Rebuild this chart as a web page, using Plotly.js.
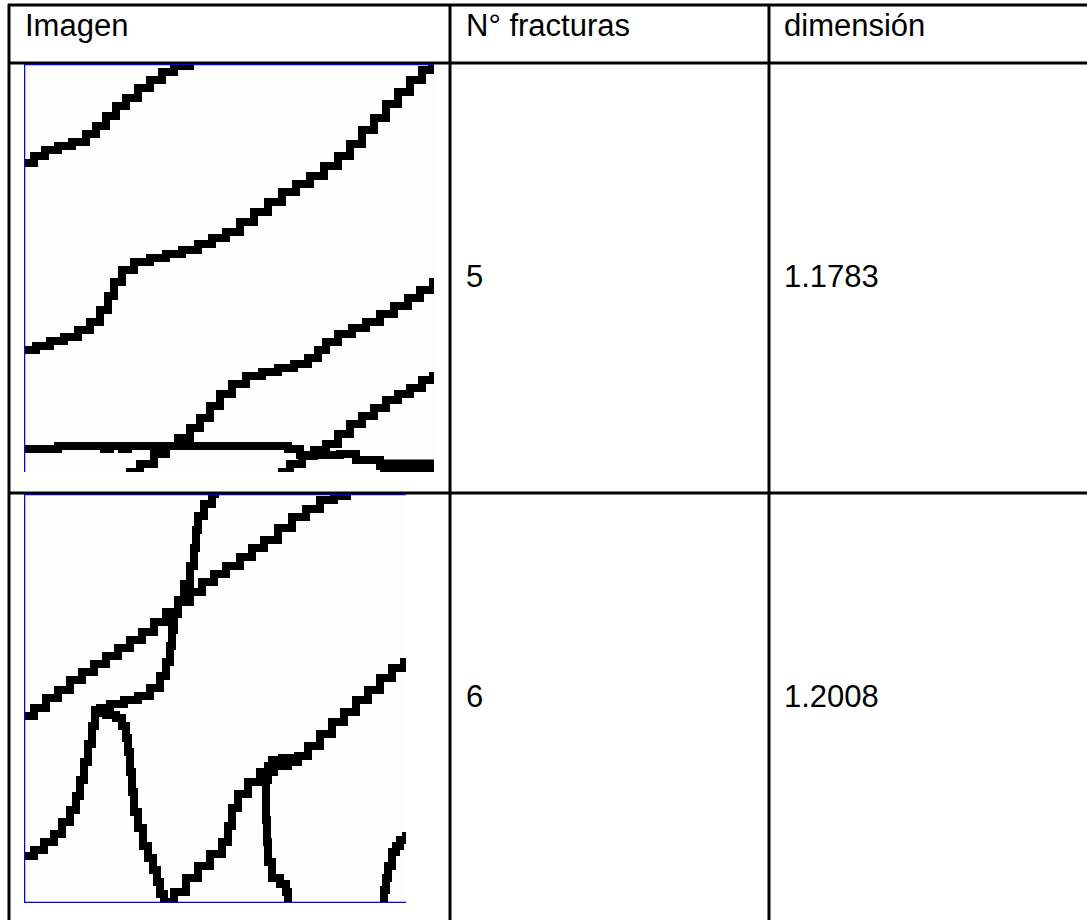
<!DOCTYPE html>
<html>
<head>
<meta charset="utf-8">
<script src="https://cdn.plot.ly/plotly-3.0.1.min.js"></script>
<style>html,body{margin:0;padding:0;background:#fff;}#chart{width:1087px;height:920px;}</style>
</head>
<body>
<div id="chart"></div>
<script>
// ---- table content ----
const headers = ["Imagen", "N° fracturas", "dimensión"];
const nFracturas = ["5", "6"];
const dimension = ["1.1783", "1.2008"];

// ---- fracture traces, image 1 (pixel coordinates) ----
const img1_A_x = [24, 34, 45, 58, 72, 86, 96, 106, 116, 126, 138, 150, 162, 174, 190];
const img1_A_y = [163, 156, 150, 146, 142, 134, 126, 116, 106, 98, 88, 80, 72, 66, 64];
const img1_B_x = [24, 36, 50, 64, 78, 90, 100, 108, 114, 122, 134, 150, 166, 182, 198, 212, 226, 240, 254, 268, 282, 296, 310, 324, 338, 350, 362, 374, 386, 398, 410, 422, 432];
const img1_B_y = [350, 346, 341, 337, 330, 322, 310, 296, 282, 270, 262, 258, 254, 250, 244, 238, 232, 222, 212, 202, 192, 184, 176, 166, 156, 144, 130, 118, 104, 92, 80, 70, 64];
const img1_C_x = [126, 140, 154, 166, 178, 190, 200, 210, 220, 232, 246, 262, 278, 294, 308, 318, 326, 338, 352, 366, 380, 394, 408, 420, 433];
const img1_C_y = [472, 464, 454, 446, 438, 428, 418, 406, 394, 384, 376, 372, 368, 364, 358, 350, 342, 334, 328, 322, 314, 306, 298, 290, 278];
const img1_D_x = [24, 52, 58, 104, 110, 122, 128, 288, 300, 320, 340, 356, 380, 434];
const img1_D_y = [449, 449, 446, 449, 446, 449, 446, 449, 455, 455, 454, 460, 466, 466];
const img1_D2_x = [380, 434];
const img1_D2_y = [466, 466];
const img1_E_x = [278, 290, 302, 314, 326, 338, 350, 362, 374, 386, 398, 410, 422, 433];
const img1_E_y = [472, 464, 456, 450, 444, 434, 424, 416, 408, 400, 394, 388, 380, 372];

// ---- fracture traces, image 2 ----
const img2_F_x = [24, 34, 46, 58, 70, 82, 94, 106, 118, 130, 142, 154, 166, 178, 190, 202, 214, 226, 240, 252, 264, 278, 292, 306, 320, 334, 347];
const img2_F_y = [716, 708, 698, 690, 680, 672, 664, 656, 648, 640, 632, 622, 612, 602, 592, 582, 574, 566, 557, 548, 540, 528, 517, 509, 500, 496, 494];
const img2_G_x = [219, 212, 204, 198, 196, 194, 190, 184, 178, 174, 172, 170, 166, 160, 150, 138, 124, 110, 100, 95];
const img2_G_y = [494, 504, 516, 530, 548, 566, 584, 600, 614, 630, 646, 662, 676, 688, 696, 700, 704, 708, 710, 713];
const img2_K_x = [24, 34, 44, 54, 62, 70, 76, 80, 84, 88, 92, 95];
const img2_K_y = [856, 850, 842, 834, 822, 810, 796, 780, 762, 744, 726, 713];
const img2_L_x = [95, 106, 116, 122, 126, 128, 130, 132, 134, 138, 143, 148, 153, 157, 160, 164, 170];
const img2_L_y = [713, 715, 718, 726, 738, 752, 772, 792, 812, 828, 846, 858, 870, 882, 894, 902, 902];
const img2_H_x = [164, 174, 186, 198, 210, 222, 228, 232, 238, 248, 260, 274, 288, 298, 308, 320, 332, 344, 356, 368, 380, 392, 404];
const img2_H_y = [902, 892, 878, 866, 854, 842, 826, 808, 794, 782, 772, 766, 762, 756, 746, 734, 722, 712, 700, 690, 678, 668, 658];
const img2_I_x = [296, 282, 272, 268, 266, 266, 267, 268, 272, 280, 286, 288];
const img2_I_y = [758, 760, 766, 780, 798, 820, 842, 862, 878, 884, 892, 902];
const img2_J_x = [382, 384, 386, 388, 392, 396, 400, 406];
const img2_J_y = [902, 890, 878, 866, 852, 846, 840, 832];

const img1Curves = [[img1_A_x, img1_A_y, 8], [img1_B_x, img1_B_y, 8], [img1_C_x, img1_C_y, 8], [img1_D_x, img1_D_y, 8], [img1_D2_x, img1_D2_y, 13], [img1_E_x, img1_E_y, 8]];
const img2Curves = [[img2_F_x, img2_F_y], [img2_G_x, img2_G_y], [img2_K_x, img2_K_y], [img2_L_x, img2_L_y], [img2_H_x, img2_H_y], [img2_I_x, img2_I_y], [img2_J_x, img2_J_y]];

const W = 1087, H = 920;
const px = v => v / W;
const py = v => 1 - v / H;

const traces = [];
img1Curves.forEach(c => traces.push({x: c[0], y: c[1], xaxis: 'x', yaxis: 'y', mode: 'lines',
  line: {color: '#000', width: c[2], shape: 'hv'}, hoverinfo: 'skip', showlegend: false}));
img2Curves.forEach(c => traces.push({x: c[0], y: c[1], xaxis: 'x2', yaxis: 'y2', mode: 'lines',
  line: {color: '#000', width: 8, shape: 'hv'}, hoverinfo: 'skip', showlegend: false}));

const axBase = {showgrid: false, zeroline: false, showticklabels: false, ticks: '', showline: false, fixedrange: true};

const shapes = [];
const blk = {color: '#000', width: 3};
function hline(y, x0, x1) { shapes.push({type: 'line', xref: 'paper', yref: 'paper', x0: px(x0), x1: px(x1), y0: py(y), y1: py(y), line: blk}); }
function vline(x, y0, y1) { shapes.push({type: 'line', xref: 'paper', yref: 'paper', x0: px(x), x1: px(x), y0: py(y0), y1: py(y1), line: blk}); }
hline(5, 8, 1087); hline(63, 8, 1087); hline(493, 8, 1087);
vline(9, 4, 920); vline(450, 4, 920); vline(769, 4, 920);

// image frames (blue edges)
const blue = {color: '#0000ff', width: 2.5};
shapes.push({type: 'line', xref: 'x', yref: 'y', x0: 24, x1: 24, y0: 64, y1: 472, line: blue});
shapes.push({type: 'line', xref: 'x', yref: 'y', x0: 24, x1: 434, y0: 64, y1: 64, line: blue});
shapes.push({type: 'line', xref: 'x2', yref: 'y2', x0: 24, x1: 24, y0: 494, y1: 903, line: blue});
shapes.push({type: 'line', xref: 'x2', yref: 'y2', x0: 24, x1: 406, y0: 494, y1: 494, line: blue});
shapes.push({type: 'line', xref: 'x2', yref: 'y2', x0: 24, x1: 406, y0: 903, y1: 903, line: blue});

const font = {family: 'Liberation Sans, Arial, sans-serif', size: 31, color: '#000'};
const annotations = [];
const colX = [23, 464, 782];
headers.forEach((h, i) => annotations.push({text: h, xref: 'paper', yref: 'paper', x: px(colX[i]), y: py(26),
  xanchor: 'left', yanchor: 'middle', showarrow: false, font: font}));
const rowY = [276, 696];
nFracturas.forEach((v, i) => annotations.push({text: v, xref: 'paper', yref: 'paper', x: px(colX[1]), y: py(rowY[i]),
  xanchor: 'left', yanchor: 'middle', showarrow: false, font: font}));
dimension.forEach((v, i) => annotations.push({text: v, xref: 'paper', yref: 'paper', x: px(colX[2]), y: py(rowY[i]),
  xanchor: 'left', yanchor: 'middle', showarrow: false, font: font}));

const layout = {
  width: W, height: H, margin: {l: 0, r: 0, t: 0, b: 0},
  paper_bgcolor: '#fff', plot_bgcolor: '#fdfdfd', showlegend: false,
  xaxis: Object.assign({}, axBase, {domain: [px(24), px(434)], range: [24, 434], anchor: 'y'}),
  yaxis: Object.assign({}, axBase, {domain: [py(472), py(64)], range: [472, 64], anchor: 'x'}),
  xaxis2: Object.assign({}, axBase, {domain: [px(24), px(406)], range: [24, 406], anchor: 'y2'}),
  yaxis2: Object.assign({}, axBase, {domain: [py(903), py(494)], range: [903, 494], anchor: 'x2'}),
  shapes: shapes, annotations: annotations
};
Plotly.newPlot('chart', traces, layout, {staticPlot: true, displayModeBar: false});
</script>
</body>
</html>
